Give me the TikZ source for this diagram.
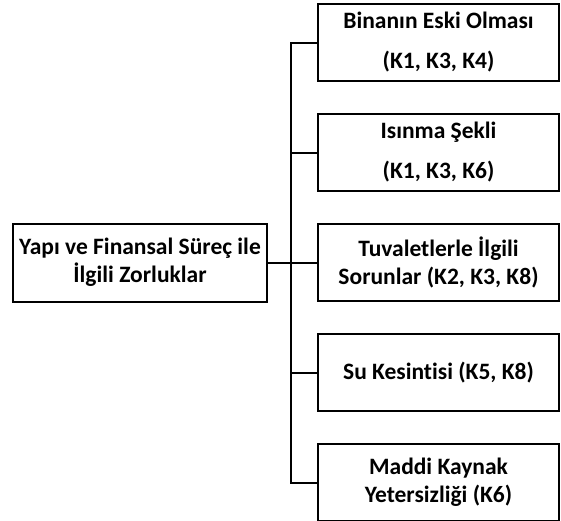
\documentclass[tikz,border=0pt]{standalone}
\usepackage{fontspec}
\setmainfont[Ligatures={NoCommon}]{Carlito}
\usepackage{tikz}
\usetikzlibrary{positioning}

\begin{document}
\begin{tikzpicture}[
  font=\bfseries\fontsize{23.5}{28}\selectfont,
    node distance=31pt,
    line width=2pt,
    topic/.style={rectangle, draw, align=center, minimum width=241pt, minimum height=77pt, inner sep=1pt},
    wide/.style={font=\bfseries\fontsize{23.5}{40}\selectfont},
    main/.style={rectangle, draw, align=center, minimum width=254pt, minimum height=78pt, inner sep=1pt}
]

\useasboundingbox (0,0) rectangle (561pt,-520pt);

% Nodes
\node[topic, wide] (T1) at (438.5pt,-42.5pt) {Binanın Eski Olması\\(K1, K3, K4)};
\node[topic, wide, below=of T1] (T2) {Isınma Şekli\\(K1, K3, K6)};
\node[topic, below=of T2] (T3) {Tuvaletlerle İlgili\\Sorunlar (K2, K3, K8)};
\node[topic, below=of T3] (T4) {Su Kesintisi (K5, K8)};
\node[topic, below=of T4] (T5) {Maddi Kaynak\\Yetersizliği (K6)};
\node[main, left=49pt of T3] (M) {Yapı ve Finansal Süreç ile\\İlgili Zorluklar};

% Spine
\coordinate[left=26pt of T1.west] (top);
\coordinate[left=26pt of T5.west] (bot);

% Edges
\draw (T1.west) -- (top) -- (bot) -- (T5.west);
\foreach \n in {2,3,4}
  \draw (T\n.west) -- (T\n.west -| top);
\draw (M) -- (T3);

\end{tikzpicture}
\end{document}
